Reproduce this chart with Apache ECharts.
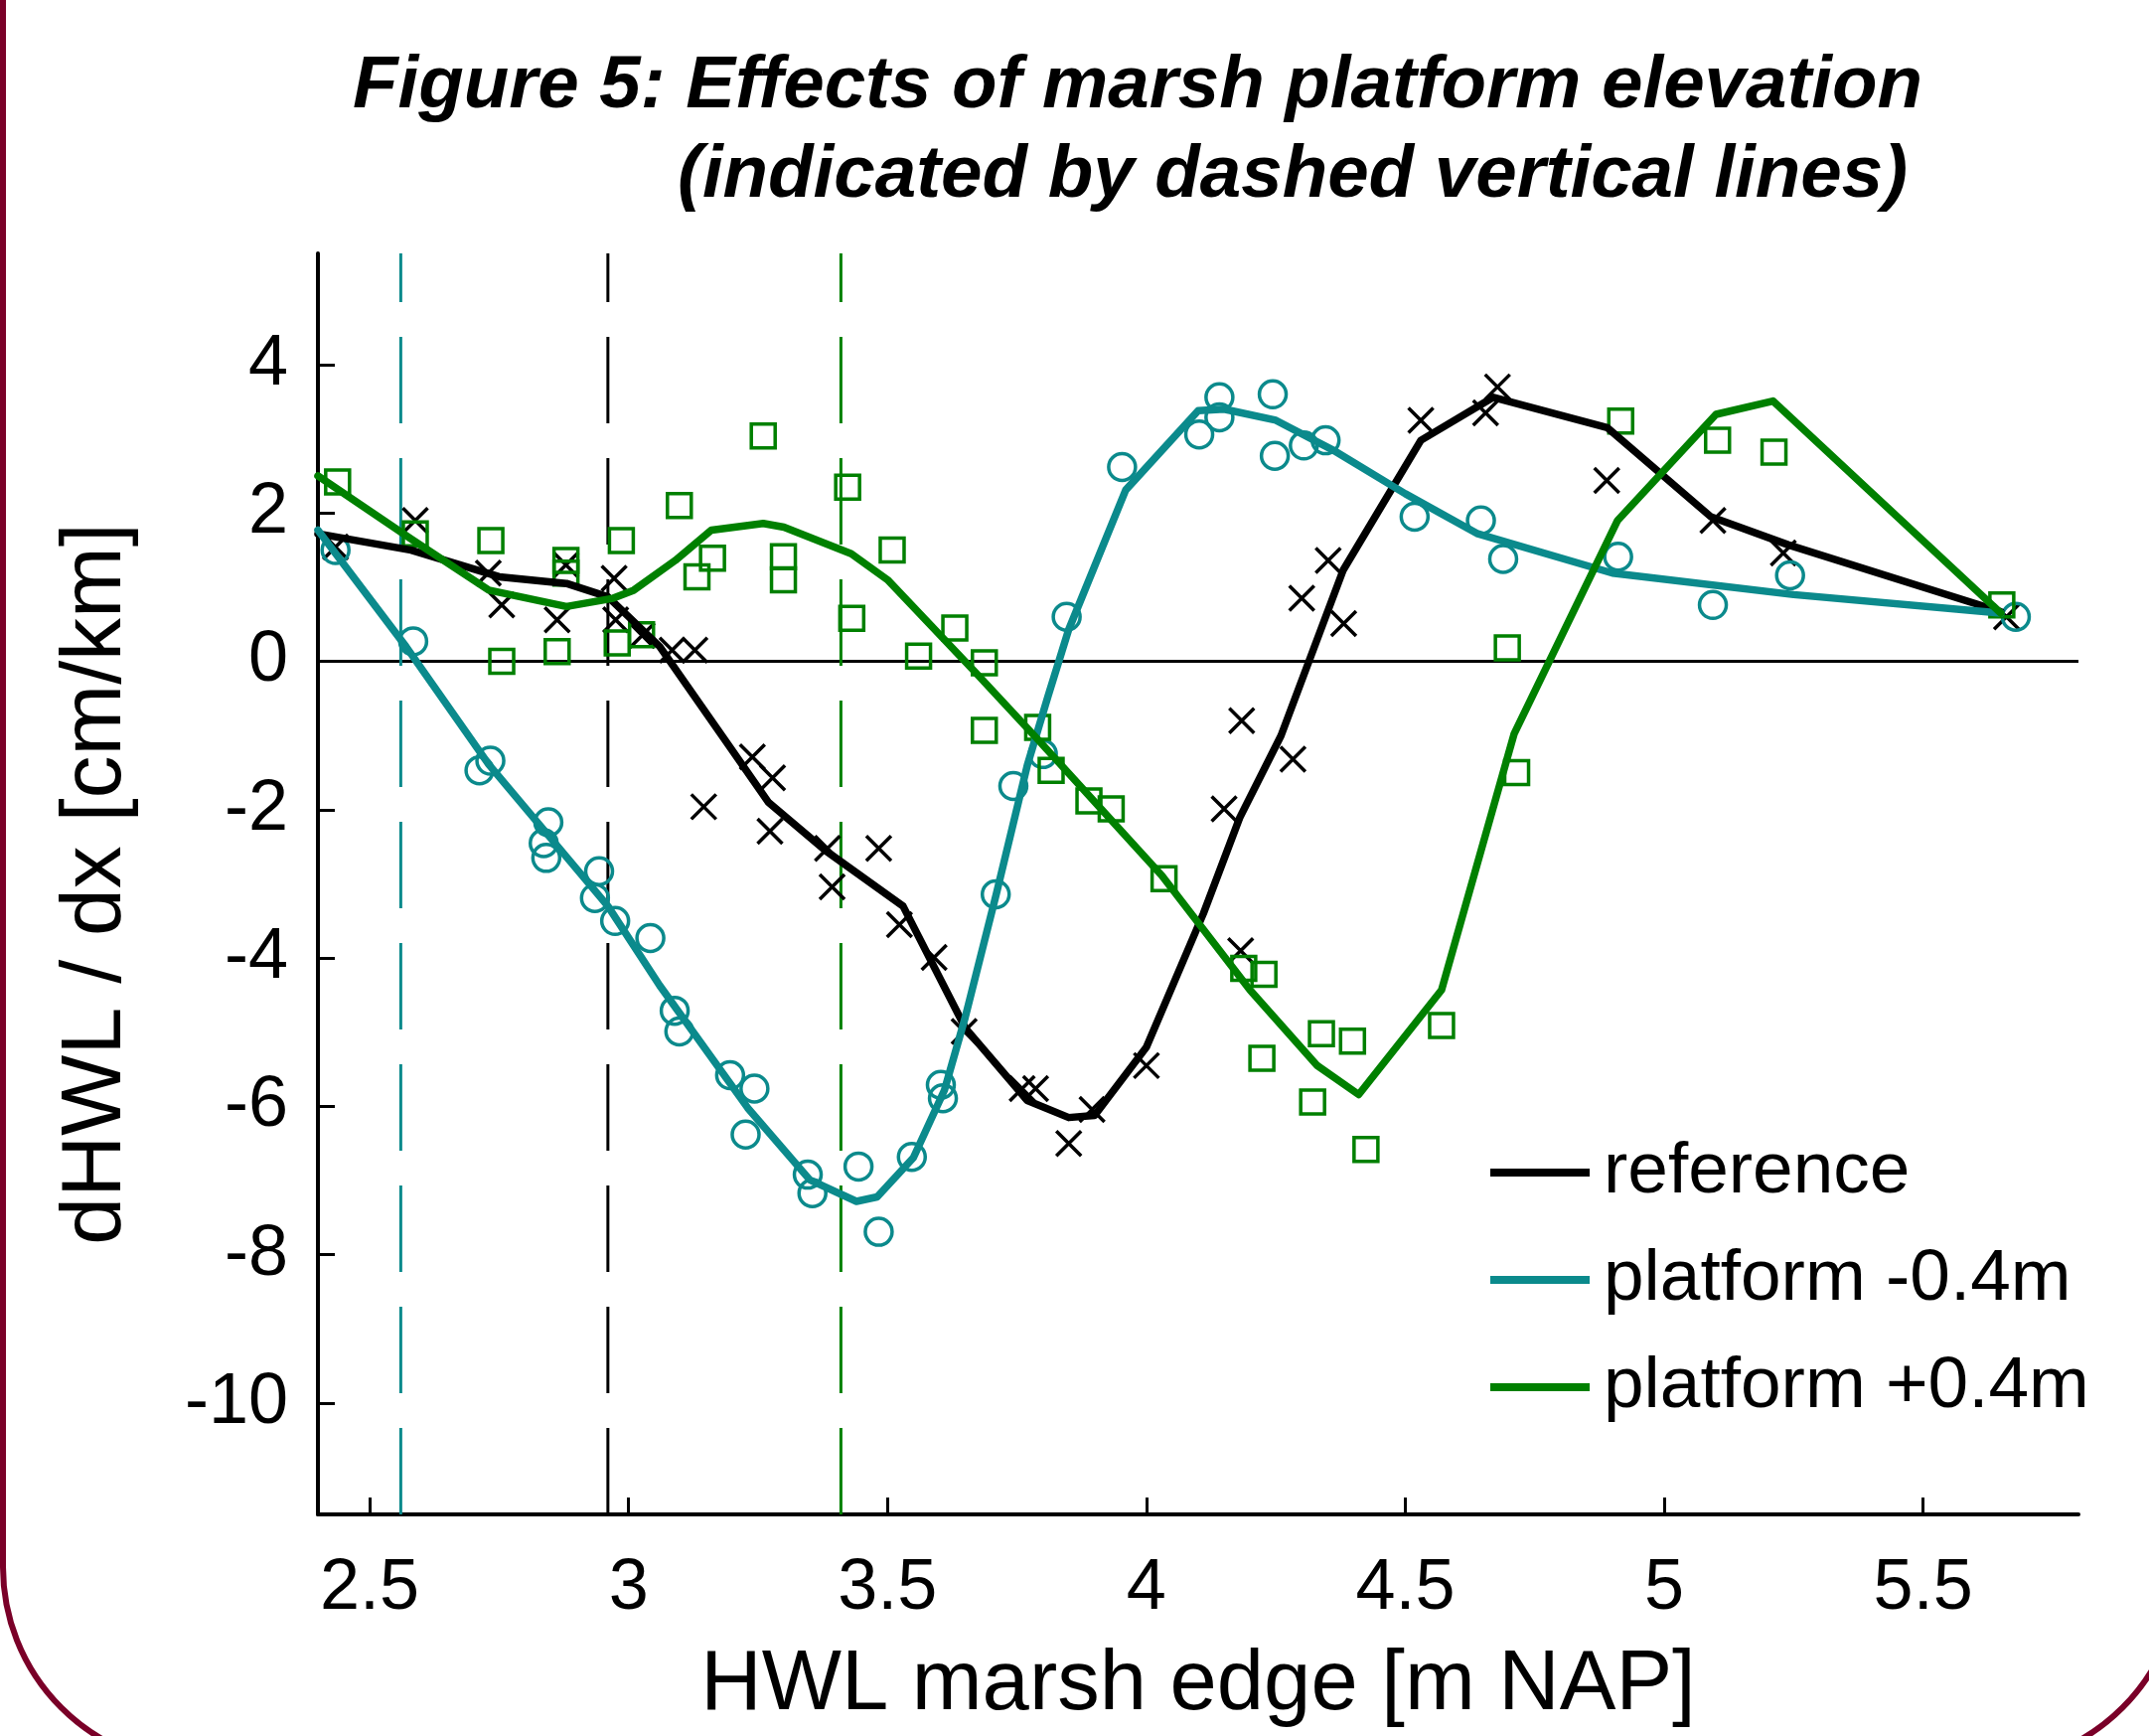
<!DOCTYPE html>
<html>
<head>
<meta charset="utf-8">
<style>
  html, body { margin: 0; padding: 0; background: #ffffff; }
  #chart { width: 2163px; height: 1747px; }
</style>
<script src="https://cdn.jsdelivr.net/npm/echarts@6/dist/echarts.min.js"></script>
</head>
<body>
<div id="chart"></div>
<script>
// ---------- data ----------
const xTicks = [2.5, 3, 3.5, 4, 4.5, 5, 5.5];
const yTicks = [-10, -8, -6, -4, -2, 0, 2, 4];
const xRange = [2.4, 5.8];
const yRange = [-11.5, 5.5];

const seriesNames = ['reference', 'platform -0.4m', 'platform +0.4m'];
// platform elevations (dashed vertical lines): -0.4m, reference, +0.4m
const platformLevels = [2.56, 2.96, 3.41];

// reference: model line
const refLineX = [2.40, 2.58, 2.75, 2.88, 2.96, 3.06, 3.18, 3.27, 3.38, 3.53, 3.65, 3.77, 3.85, 3.90, 4.00, 4.11, 4.18, 4.26, 4.38, 4.53, 4.67, 4.89, 5.09, 5.24, 5.65];
const refLineY = [1.72, 1.50, 1.14, 1.05, 0.87, 0.20, -1.00, -1.90, -2.55, -3.30, -4.94, -5.92, -6.15, -6.12, -5.20, -3.40, -2.11, -1.00, 1.23, 2.98, 3.56, 3.15, 1.95, 1.57, 0.67];
// reference: data points (crosses)
const refPtsX = [2.434, 2.588, 2.729, 2.755, 2.862, 2.879, 2.972, 2.975, 3.026, 3.084, 3.128, 3.145, 3.239, 3.278, 3.273, 3.384, 3.393, 3.483, 3.523, 3.590, 3.648, 3.760, 3.786, 3.850, 3.895, 4.000, 4.150, 4.184, 4.182, 4.283, 4.300, 4.351, 4.381, 4.530, 4.655, 4.678, 4.889, 5.094, 5.230, 5.661];
const refPtsY = [1.54, 1.90, 1.19, 0.76, 0.56, 1.30, 1.12, 0.56, 0.35, 0.15, 0.15, -1.96, -1.29, -1.57, -2.29, -2.52, -3.04, -2.52, -3.55, -3.99, -4.99, -5.76, -5.76, -6.50, -6.04, -5.45, -1.99, -0.80, -3.90, -1.32, 0.85, 1.36, 0.51, 3.25, 3.35, 3.70, 2.44, 1.90, 1.46, 0.60];

// platform -0.4m: model line
const lowLineX = [2.40, 2.57, 2.73, 2.96, 3.06, 3.23, 3.35, 3.44, 3.48, 3.55, 3.61, 3.65, 3.71, 3.77, 3.81, 3.85, 3.96, 4.10, 4.15, 4.25, 4.36, 4.50, 4.64, 4.90, 5.25, 5.65];
const lowLineY = [1.77, 0.20, -1.39, -3.30, -4.37, -6.02, -6.99, -7.28, -7.22, -6.69, -5.78, -4.80, -3.14, -1.40, -0.47, 0.43, 2.31, 3.38, 3.40, 3.25, 2.85, 2.26, 1.72, 1.19, 0.90, 0.65];
// platform -0.4m: data points (circles)
const lowPtsX = [2.434, 2.584, 2.712, 2.733, 2.845, 2.836, 2.841, 2.943, 2.935, 2.974, 3.042, 3.089, 3.098, 3.196, 3.243, 3.226, 3.346, 3.355, 3.444, 3.483, 3.547, 3.603, 3.607, 3.709, 3.743, 3.800, 3.846, 3.953, 4.102, 4.141, 4.141, 4.244, 4.248, 4.304, 4.346, 4.518, 4.646, 4.689, 4.911, 5.094, 5.243, 5.679];
const lowPtsY = [1.50, 0.27, -1.47, -1.34, -2.17, -2.45, -2.65, -2.83, -3.19, -3.50, -3.73, -4.71, -4.99, -5.58, -5.76, -6.38, -6.92, -7.17, -6.81, -7.69, -6.68, -5.71, -5.89, -3.14, -1.68, -1.25, 0.60, 2.62, 3.06, 3.56, 3.29, 3.60, 2.77, 2.91, 2.98, 1.95, 1.90, 1.38, 1.41, 0.76, 1.16, 0.60];

// platform +0.4m: model line
const highLineX = [2.40, 2.58, 2.73, 2.88, 2.97, 3.01, 3.09, 3.16, 3.26, 3.30, 3.43, 3.50, 3.67, 3.79, 4.03, 4.20, 4.33, 4.41, 4.57, 4.71, 4.91, 5.10, 5.21, 5.65];
const highLineY = [2.50, 1.65, 0.96, 0.74, 0.85, 0.96, 1.36, 1.77, 1.86, 1.81, 1.45, 1.10, -0.15, -1.05, -2.89, -4.43, -5.45, -5.84, -4.43, -0.98, 1.90, 3.33, 3.51, 0.65];
// platform +0.4m: data points (squares)
const highPtsX = [2.438, 2.588, 2.734, 2.755, 2.862, 2.879, 2.879, 2.986, 2.978, 3.025, 3.098, 3.132, 3.162, 3.260, 3.299, 3.299, 3.423, 3.431, 3.509, 3.560, 3.630, 3.687, 3.687, 3.790, 3.816, 3.889, 3.932, 4.034, 4.188, 4.227, 4.338, 4.398, 4.223, 4.321, 4.424, 4.570, 4.715, 4.697, 4.916, 5.103, 5.212, 5.652];
const highPtsY = [2.42, 1.72, 1.63, 0.00, 0.13, 1.36, 1.19, 1.63, 0.25, 0.36, 2.10, 1.14, 1.39, 3.04, 1.41, 1.10, 2.35, 0.58, 1.50, 0.07, 0.45, -0.02, -0.93, -0.89, -1.47, -1.88, -1.99, -2.93, -4.14, -4.22, -5.02, -5.12, -5.35, -5.94, -6.58, -4.91, -1.50, 0.18, 3.24, 2.98, 2.82, 0.76];

// ---------- styling ----------
const FONT = '"Liberation Sans", Arial, Helvetica, sans-serif';
const COL_REF = '#000000';
const COL_LOW = '#0b8a8c';
const COL_HIGH = '#008000';
const colors = [COL_REF, COL_LOW, COL_HIGH];

function zip(xs, ys) { return xs.map((x, i) => [x, ys[i]]); }

const series = [];

// zero line
series.push({
  type: 'line', name: 'zero', silent: true, symbol: 'none',
  data: [[xRange[0], 0], [xRange[1], 0]],
  lineStyle: { color: '#000', width: 3 }, z: 1
});

// dashed platform levels (colour order: -0.4m, reference, +0.4m)
const levelColors = [COL_LOW, COL_REF, COL_HIGH];
platformLevels.forEach((lv, i) => {
  series.push({
    type: 'line', name: 'level' + i, silent: true, symbol: 'none',
    data: [[lv, yRange[0]], [lv, yRange[1]]],
    lineStyle: { color: levelColors[i], width: 3, type: [87, 35] }, z: 1
  });
});

// markers
const markerDefs = [
  { x: refPtsX, y: refPtsY, sym: 'path://M0,0L10,10M10,0L0,10', size: 25, col: COL_REF, bw: 3.5 },
  { x: lowPtsX, y: lowPtsY, sym: 'circle', size: 27, col: COL_LOW, bw: 3.5 },
  { x: highPtsX, y: highPtsY, sym: 'rect', size: 24, col: COL_HIGH, bw: 3.5 }
];
markerDefs.forEach((m, i) => {
  series.push({
    type: 'scatter', name: seriesNames[i] + ' data', silent: true,
    data: zip(m.x, m.y), symbol: m.sym, symbolSize: m.size,
    itemStyle: { color: 'transparent', borderColor: m.col, borderWidth: m.bw, opacity: 1 },
    z: 2
  });
});

// model lines
const lineDefs = [[refLineX, refLineY], [lowLineX, lowLineY], [highLineX, highLineY]];
lineDefs.forEach((d, i) => {
  series.push({
    type: 'line', name: seriesNames[i], symbol: 'none', smooth: false,
    data: zip(d[0], d[1]),
    lineStyle: { color: colors[i], width: 7.5, join: 'round', cap: 'round' },
    itemStyle: { color: colors[i] },
    z: 3
  });
});

const chart = echarts.init(document.getElementById('chart'), null, { renderer: 'canvas' });
chart.setOption({
  animation: false,
  backgroundColor: '#ffffff',
  grid: { left: 320, right: 71, top: 255, bottom: 223, containLabel: false },
  xAxis: {
    type: 'value', min: xRange[0], max: xRange[1],
    name: 'HWL marsh edge [m NAP]', nameLocation: 'middle', nameGap: 130,
    nameTextStyle: { fontSize: 85, fontFamily: FONT, color: '#000' },
    axisLine: { show: true, onZero: false, lineStyle: { color: '#000', width: 4 } },
    axisTick: { show: true, inside: true, length: 17, lineStyle: { color: '#000', width: 3 }, customValues: xTicks },
    axisLabel: { show: true, customValues: xTicks, fontSize: 72, fontFamily: FONT, color: '#000', margin: 39,
      formatter: v => String(v) },
    splitLine: { show: false }
  },
  yAxis: {
    type: 'value', min: yRange[0], max: yRange[1],
    name: 'dHWL / dx [cm/km]', nameLocation: 'middle', nameGap: 180,
    nameTextStyle: { fontSize: 86, fontFamily: FONT, color: '#000' },
    axisLine: { show: true, onZero: false, lineStyle: { color: '#000', width: 4 } },
    axisTick: { show: true, inside: true, length: 17, lineStyle: { color: '#000', width: 3 }, customValues: yTicks },
    axisLabel: { show: true, customValues: yTicks, fontSize: 72, fontFamily: FONT, color: '#000', margin: 30,
      formatter: v => String(v) },
    splitLine: { show: false }
  },
  legend: {
    data: seriesNames, orient: 'vertical', left: 1500, top: 1140, padding: 0,
    icon: 'rect', itemWidth: 100, itemHeight: 8, itemGap: 28,
    selectedMode: false,
    textStyle: { fontSize: 73, fontFamily: FONT, color: '#000', lineHeight: 80, padding: [0, 0, 0, 9] }
  },
  graphic: [
    {
      type: 'rect', silent: true, z: 0,
      shape: { x: 3, y: -400, width: 2192, height: 2177, r: 200 },
      style: { fill: 'none', stroke: '#7a0028', lineWidth: 6 }
    },
    {
      type: 'text', silent: true, x: 1935, y: 87,
      style: { text: 'Figure 5: Effects of marsh platform elevation',
        font: 'italic bold 74.5px ' + FONT, fill: '#000',
        align: 'right', verticalAlign: 'middle', textAlign: 'right', textVerticalAlign: 'middle' }
    },
    {
      type: 'text', silent: true, x: 1920, y: 177,
      style: { text: '(indicated by dashed vertical lines)',
        font: 'italic bold 74.5px ' + FONT, fill: '#000',
        align: 'right', verticalAlign: 'middle', textAlign: 'right', textVerticalAlign: 'middle' }
    }
  ],
  series: series
});
</script>
</body>
</html>
